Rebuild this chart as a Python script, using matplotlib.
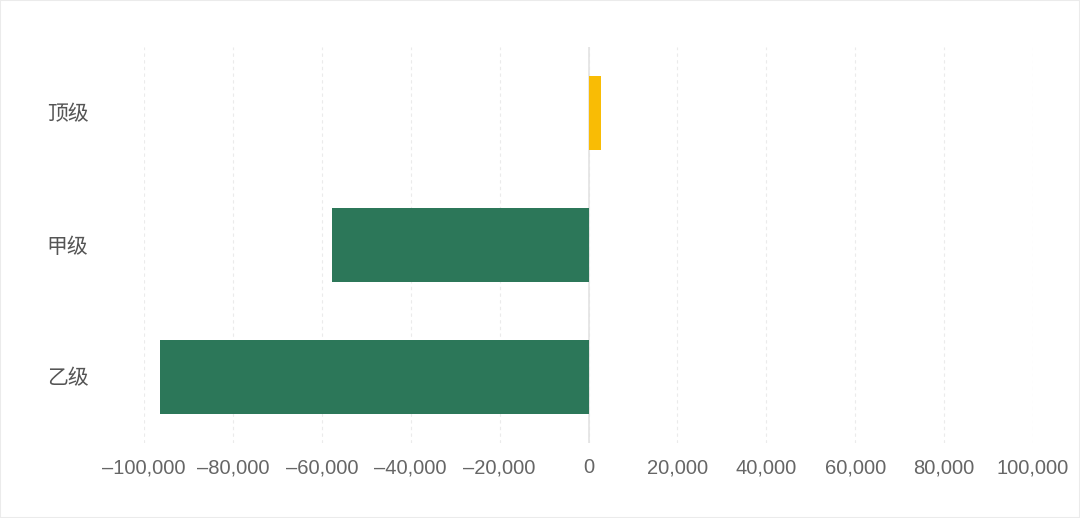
import matplotlib
matplotlib.use("Agg")
import matplotlib.pyplot as plt
from matplotlib.ticker import FuncFormatter
from matplotlib.patches import Rectangle

plt.rcParams['font.family'] = ['Liberation Sans', 'Noto Sans CJK SC', 'DejaVu Sans']

categories = ["乙级", "甲级", "顶级"]
values = [-96500, -57600, 2700]
colors = ["#2c7759", "#2c7759", "#f9bc05"]
xticks = [-100000, -80000, -60000, -40000, -20000, 0, 20000, 40000, 60000, 80000, 100000]

fig = plt.figure(figsize=(10.8, 5.18), dpi=100)
ax = fig.add_axes([144/1080, 1-443/518, (1033-144)/1080, (443-47)/518])

ax.barh(categories, values, height=0.565, color=colors, zorder=3)
ax.set_xlim(-100000, 100000)
ax.set_ylim(-0.5, 2.5)
ax.set_xticks(xticks)
ax.xaxis.set_major_formatter(FuncFormatter(lambda v, p: f"{int(v):,}".replace("-", "\u2013")))
ax.grid(axis='x', color='#ebebeb', linestyle=(0, (3, 3)), linewidth=0.8, zorder=0)
ax.axvline(0, color='#e3e3e3', linewidth=1.2, zorder=2)
for s in ax.spines.values():
    s.set_visible(False)
ax.tick_params(axis='both', length=0, colors='#666666')
ax.tick_params(axis='x', pad=11, labelsize=14.5)
ax.tick_params(axis='y', pad=40, labelsize=15, labelcolor='#555555')

fig.patches.append(Rectangle((0, 0), 1, 1, transform=fig.transFigure, fill=False,
                             edgecolor='#ebebeb', linewidth=1.5))
fig.savefig("out.png", dpi=100)
